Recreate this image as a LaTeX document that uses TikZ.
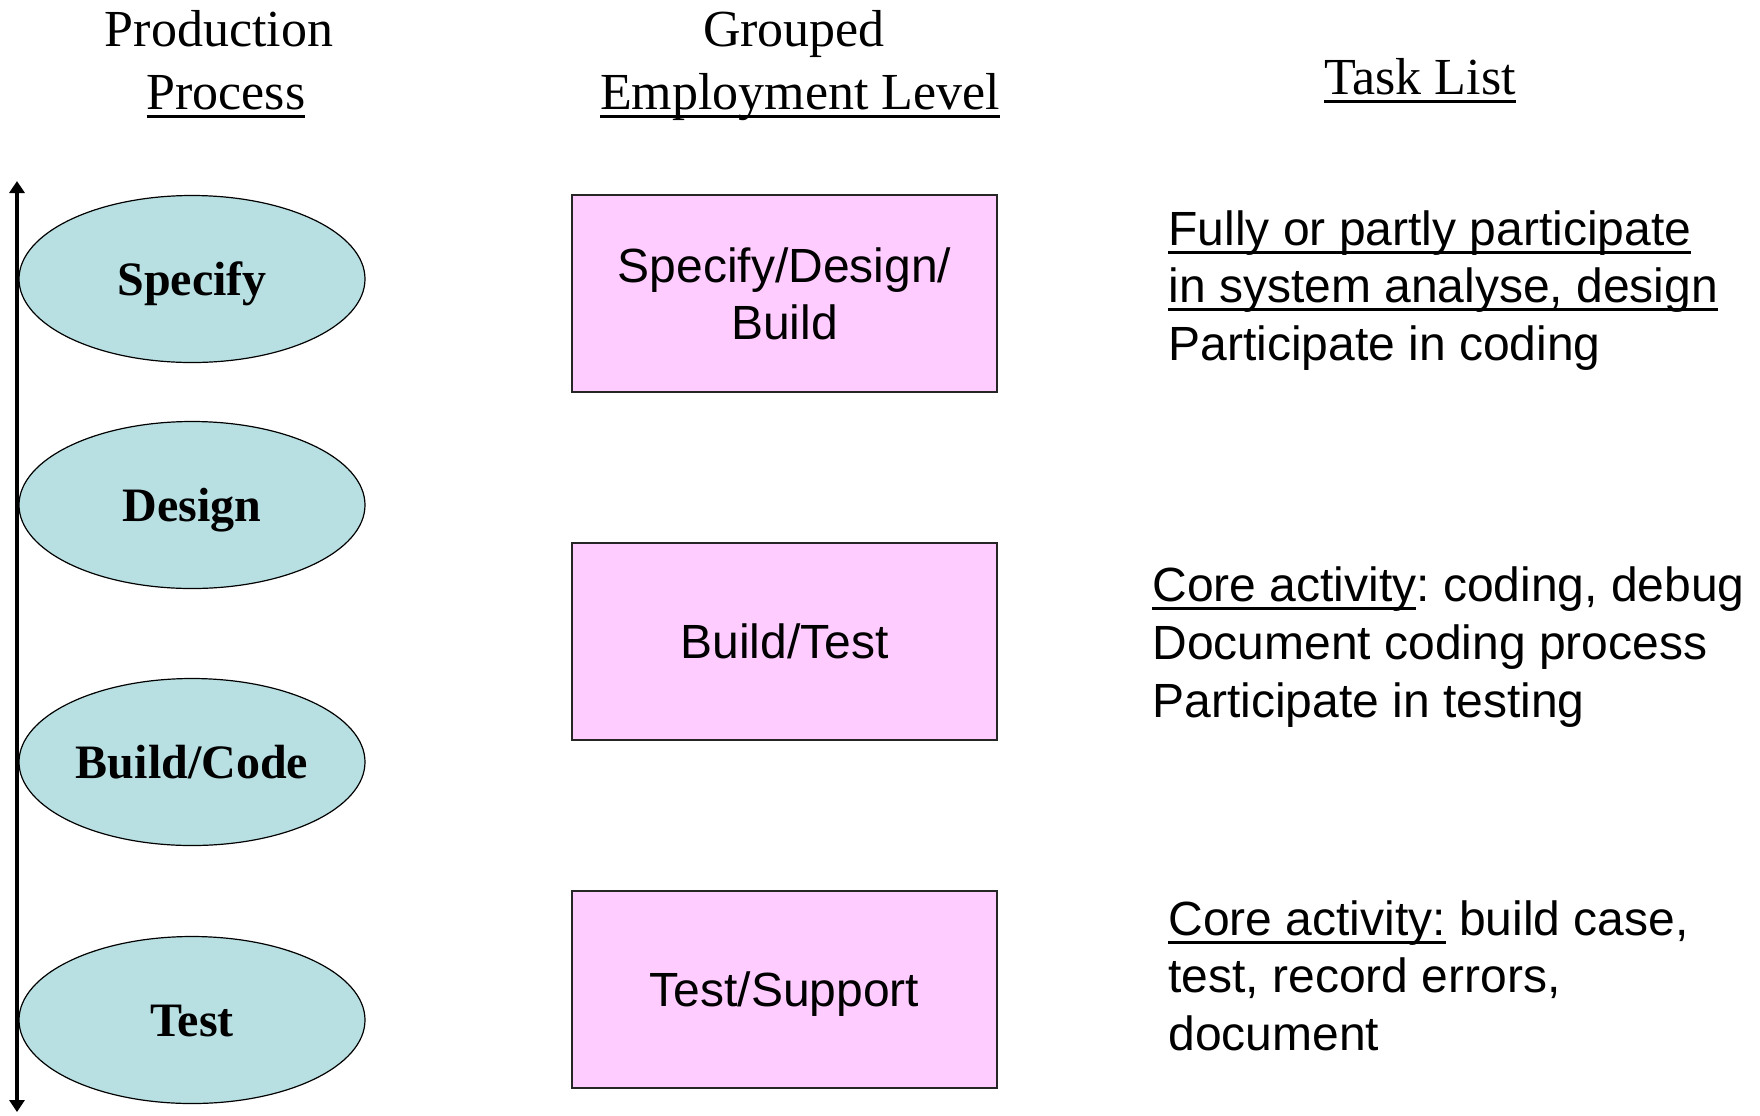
\documentclass[tikz,border=0pt]{standalone}
\usepackage{fontspec}
\setmainfont{Liberation Serif}
\setsansfont{Liberation Sans}
\usetikzlibrary{shapes.geometric,arrows.meta}
\definecolor{stagefill}{HTML}{B8E0E3}
\definecolor{grpfill}{HTML}{FFCCFF}
\newcommand\ulx[1]{\setbox0\hbox{#1}\rlap{\rule[-4.6pt]{\wd0}{1.4pt}}\box0\relax}
\frenchspacing
\begin{document}
\begin{tikzpicture}[x=0.5pt,y=-0.5pt,
  stage/.style={ellipse, draw=black, line width=0.6pt, fill=stagefill,
    minimum width=173pt, minimum height=83.5pt, inner sep=0pt,
    text height=16.5pt, text depth=0pt,
    font=\bfseries\fontsize{24}{29}\selectfont},
  grp/.style={rectangle, draw=black!85, line width=0.8pt, fill=grpfill,
    minimum width=212.5pt, minimum height=98.5pt, align=center, inner sep=0pt,
    text depth=0pt,
    font=\sffamily\fontsize{24}{28.5}\selectfont},
  head/.style={anchor=base, inner sep=0pt, font=\fontsize{26}{30}\selectfont},
  task/.style={anchor=base west, inner sep=0pt, font=\sffamily\fontsize{24}{29}\selectfont\frenchspacing},
  axis/.style={line width=2pt, {Triangle[width=7.5pt,length=6pt]}-{Triangle[width=7.5pt,length=6pt]}}
]
\useasboundingbox (0,0) rectangle (1760,1115);

% headers
\node[head] (h1a) at (219,46) {Production};
\node[head] (h1b) at (226,109) {\ulx{Process}};
\node[head] (h2a) at (794,46) {Grouped};
\node[head] (h2b) at (800,109) {\ulx{Employment Level}};
\node[head] (h3) at (1420,94) {\ulx{Task List}};

% time axis
\coordinate (axtop) at (17,181);
\coordinate (axbot) at (17,1112);
\draw[axis] (axbot) -- (axtop);

% stages
\node[stage] (s1) at (192,279) {Specify};
\node[stage] (s2) at (192,505) {Design};
\node[stage] (s3) at (192,762) {Build/Code};
\node[stage] (s4) at (192,1020) {Test};

% grouped levels
\node[grp] (g1) at (784.5,293.5) {Specify/Design/\\Build};
\node[grp] (g2) at (784.5,641.5) {Build/Test};
\node[grp] (g3) at (784.5,989.5) {Test/Support};

% task lists
\node[task] (t1a) at (1168,245) {\ulx{Fully or partly participate}};
\node[task] (t1b) at (1168,302) {\ulx{in system analyse, design}};
\node[task] (t1c) at (1168,360) {Participate in coding};

\node[task] (t2a) at (1152,601) {\ulx{Core activity}: coding, debug};
\node[task] (t2b) at (1152,659) {Document coding process};
\node[task] (t2c) at (1152,717) {Participate in testing};

\node[task] (t3a) at (1168,935) {\ulx{Core activity:} build case,};
\node[task] (t3b) at (1168,992) {test, record errors,};
\node[task] (t3c) at (1168,1050) {document};
\end{tikzpicture}
\end{document}
